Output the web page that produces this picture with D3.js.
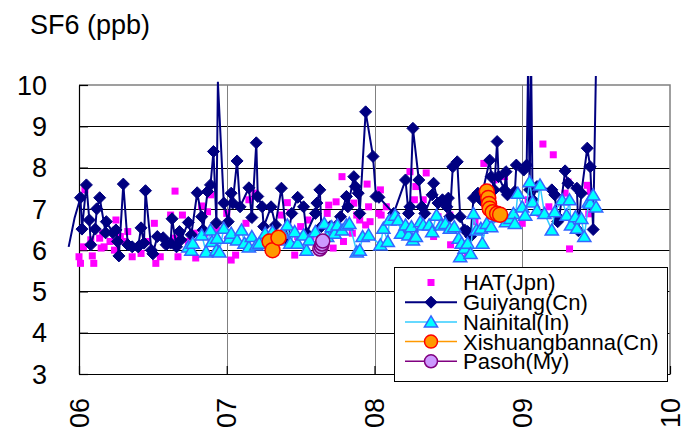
<!DOCTYPE html>
<html>
<head>
<meta charset="utf-8">
<script src="https://cdn.jsdelivr.net/npm/d3@7"></script>
<style>
  html, body { margin: 0; padding: 0; background: #fff; }
  svg { display: block; font-family: "Liberation Sans", Arial, sans-serif; }
</style>
</head>
<body>
<svg id="chart" width="681" height="433"></svg>
<script>
// SF6 mixing ratios (ppb) by decimal year at five sites
const hat = [
  [2006.00,5.84],[2006.01,5.68],[2006.03,6.08],[2006.04,7.46],[2006.08,6.25],[2006.09,5.86],[2006.10,5.68],
  [2006.14,6.29],[2006.15,6.05],[2006.16,6.41],[2006.17,6.08],[2006.21,6.21],[2006.24,6.00],[2006.25,6.73],
  [2006.28,6.33],[2006.31,6.21],[2006.33,6.45],[2006.36,5.84],[2006.40,6.08],[2006.42,5.92],[2006.46,6.21],
  [2006.51,6.65],[2006.52,5.68],[2006.55,5.84],[2006.59,6.13],[2006.62,6.85],[2006.64,6.29],[2006.65,7.43],
  [2006.67,5.84],[2006.70,6.85],[2006.74,6.21],[2006.78,6.41],[2006.79,5.81],[2006.83,7.07],[2006.85,6.41],
  [2006.87,6.93],[2006.89,7.34],[2006.93,6.49],[2007.00,6.89],[2007.005,6.25],[2007.03,5.76],[2007.06,5.88],
  [2007.13,6.65],[2007.15,7.22],[2007.19,7.38],[2007.37,6.85],[2007.41,7.15],[2007.43,6.91],[2007.46,5.88],
  [2007.48,6.33],[2007.50,6.57],[2007.55,6.73],[2007.57,6.33],[2007.61,6.08],[2007.68,6.89],[2007.69,7.09],
  [2007.72,6.05],[2007.74,7.17],[2007.78,7.78],[2007.79,6.21],[2007.85,6.41],[2007.86,7.14],[2007.88,6.85],
  [2007.90,6.73],[2007.94,6.61],[2007.95,7.60],[2007.96,7.05],[2007.97,6.69],[2008.03,6.89],[2008.04,7.46],
  [2008.045,6.85],[2008.08,7.05],[2008.19,6.45],[2008.24,7.90],[2008.27,7.22],[2008.28,7.54],[2008.33,7.22],
  [2008.35,7.87],[2008.40,6.33],[2008.43,6.81],[2008.51,6.85],[2008.515,6.13],[2008.61,6.00],[2008.63,5.92],
  [2008.68,6.69],[2008.74,8.10],[2008.76,7.26],[2008.81,7.70],[2008.88,7.78],[2009.00,6.65],[2009.04,7.22],
  [2009.06,7.46],[2009.12,6.89],[2009.14,8.57],[2009.18,7.05],[2009.21,8.31],[2009.29,7.38],[2009.31,7.65],
  [2009.32,6.03],[2009.44,7.57],[2009.45,6.88],[2009.46,7.42]
];

const guiyang = [
  [2005.93,6.08],[2005.97,6.78],[2006.01,7.27],[2006.02,6.51],[2006.05,7.58],[2006.07,6.73],[2006.08,6.13],
  [2006.11,6.51],[2006.12,7.00],[2006.14,7.27],[2006.18,6.42],[2006.185,6.69],[2006.23,6.42],[2006.25,6.49],
  [2006.26,6.21],[2006.27,5.86],[2006.30,7.60],[2006.33,6.13],[2006.36,6.08],[2006.40,6.08],[2006.42,6.54],
  [2006.44,6.17],[2006.45,7.44],[2006.49,6.00],[2006.50,5.91],[2006.53,6.33],[2006.57,6.30],[2006.59,6.13],
  [2006.62,6.17],[2006.63,6.76],[2006.66,6.08],[2006.68,6.45],[2006.69,6.25],[2006.74,6.67],[2006.76,6.37],
  [2006.80,7.39],[2006.83,6.81],[2006.84,6.49],[2006.87,7.42],[2006.89,7.58],[2006.91,8.39],[2006.93,6.66],
  [2006.94,10.08],[2006.98,7.14],[2007.01,6.69],[2007.03,7.38],[2007.04,7.14],[2007.07,8.16],[2007.09,7.05],
  [2007.15,7.51],[2007.17,6.79],[2007.20,8.60],[2007.21,7.30],[2007.24,7.05],[2007.25,6.57],[2007.30,7.05],
  [2007.33,6.61],[2007.37,7.50],[2007.41,6.21],[2007.44,6.89],[2007.48,7.28],[2007.52,7.05],[2007.54,6.41],
  [2007.60,6.89],[2007.61,7.14],[2007.63,7.46],[2007.64,6.57],[2007.70,6.57],[2007.77,6.81],[2007.81,7.30],
  [2007.82,7.05],[2007.86,7.78],[2007.87,7.54],[2007.89,7.38],[2007.90,6.89],[2007.94,9.35],[2007.99,8.27],
  [2008.01,7.30],[2008.03,7.28],[2008.13,6.89],[2008.21,7.70],[2008.23,6.89],[2008.24,7.05],[2008.26,8.95],
  [2008.30,7.70],[2008.32,7.05],[2008.34,6.89],[2008.39,7.34],[2008.40,7.62],[2008.43,7.14],[2008.46,7.22],
  [2008.49,7.05],[2008.50,7.26],[2008.51,6.81],[2008.53,8.02],[2008.56,8.14],[2008.58,6.81],[2008.61,6.49],
  [2008.63,6.45],[2008.65,6.33],[2008.67,7.26],[2008.70,7.38],[2008.72,7.22],[2008.78,8.18],[2008.79,7.78],
  [2008.81,7.46],[2008.83,8.63],[2008.84,7.78],[2008.88,7.46],[2008.89,7.90],[2008.90,7.34],[2008.95,7.42],
  [2008.96,8.06],[2009.01,7.94],[2009.03,8.06],[2009.04,10.6],[2009.05,7.46],[2009.06,10.6],[2009.07,7.22],
  [2009.10,7.54],[2009.20,7.46],[2009.22,7.34],[2009.24,6.69],[2009.25,6.77],[2009.29,7.92],[2009.31,7.62],
  [2009.37,7.50],[2009.38,6.47],[2009.40,7.38],[2009.44,8.47],[2009.46,8.02],[2009.48,6.50],[2009.50,10.6]
];

const nainital = [
  [2006.74,6.08],[2006.76,6.00],[2006.77,6.17],[2006.83,6.37],[2006.86,5.96],[2006.89,6.49],[2006.90,6.21],
  [2006.93,6.00],[2006.935,6.29],[2006.95,5.96],[2006.98,6.53],[2007.02,6.29],[2007.03,6.41],[2007.07,6.25],
  [2007.10,6.49],[2007.12,6.17],[2007.15,6.08],[2007.17,6.33],[2007.20,6.13],[2007.22,6.17],[2007.26,6.41],
  [2007.31,6.45],[2007.35,6.25],[2007.38,6.41],[2007.41,6.61],[2007.43,6.17],[2007.46,6.45],[2007.48,6.17],
  [2007.52,6.37],[2007.54,6.00],[2007.56,6.25],[2007.60,6.45],[2007.66,6.65],[2007.68,6.33],[2007.71,6.57],
  [2007.73,6.41],[2007.75,6.61],[2007.78,6.49],[2007.81,6.61],[2007.83,6.65],[2007.88,5.96],[2007.90,6.00],
  [2007.92,6.33],[2007.96,6.37],[2008.04,6.13],[2008.06,6.53],[2008.09,6.21],[2008.10,6.73],[2008.14,6.85],
  [2008.16,6.73],[2008.18,6.41],[2008.21,6.61],[2008.23,6.37],[2008.25,6.57],[2008.26,6.25],[2008.28,6.33],
  [2008.31,6.69],[2008.33,6.61],[2008.37,6.61],[2008.39,6.45],[2008.42,6.85],[2008.45,6.61],[2008.48,6.65],
  [2008.51,6.53],[2008.54,6.57],[2008.57,6.29],[2008.58,5.84],[2008.59,6.17],[2008.61,6.05],[2008.63,6.17],
  [2008.65,5.92],[2008.67,6.89],[2008.69,6.49],[2008.72,6.53],[2008.73,6.17],[2008.76,6.65],[2008.79,6.57],
  [2008.84,6.81],[2008.89,6.69],[2008.92,6.77],[2008.94,6.89],[2008.95,6.65],[2008.97,7.38],[2009.00,7.05],
  [2009.02,6.85],[2009.05,7.66],[2009.07,7.17],[2009.10,6.97],[2009.12,7.58],[2009.15,6.89],[2009.20,6.49],
  [2009.22,6.93],[2009.27,7.22],[2009.30,6.85],[2009.32,7.22],[2009.33,6.61],[2009.36,6.81],[2009.37,6.53],
  [2009.40,6.77],[2009.42,6.33],[2009.45,7.17],[2009.46,7.14],[2009.48,7.34],[2009.50,7.05]
];

const xishuangbanna = [
  [2007.29,6.21],[2007.31,6.00],[2007.35,6.30],
  [2008.76,7.42],[2008.77,7.26],[2008.775,7.12],[2008.78,7.00],[2008.80,6.92],[2008.83,6.88],[2008.85,6.86]
];

const pasoh = [
  [2007.63,6.03],[2007.64,6.08],[2007.645,6.15],[2007.65,6.22]
];

const xTicks = [2006, 2007, 2008, 2009, 2010];
const yTicks = [3, 4, 5, 6, 7, 8, 9, 10];
const seriesNames = ["HAT(Jpn)", "Guiyang(Cn)", "Nainital(In)", "Xishuangbanna(Cn)", "Pasoh(My)"];

(function draw() {
  const svg = d3.select("#chart");
  const pL = 79, pR = 670, pT = 85, pB = 374;

  const x = d3.scaleLinear().domain([2006, 2010]).range([pL, pR]);
  const y = d3.scaleLinear().domain([3, 10]).range([pB, pT]);

  // clip region for the series lines (lines may run a little past the frame)
  svg.append("defs").append("clipPath").attr("id", "lineClip")
    .append("rect").attr("x", 60).attr("y", 76).attr("width", pR - 60).attr("height", pB - 76);

  // gridlines
  const grid = svg.append("g");
  grid.selectAll("line.h").data(yTicks.filter(t => t > 3 && t < 10)).join("line").attr("class", "h")
    .attr("x1", pL).attr("x2", pR)
    .attr("y1", d => Math.round(y(d)) + 0.5).attr("y2", d => Math.round(y(d)) + 0.5)
    .attr("stroke", "#000").attr("stroke-width", 1);
  grid.selectAll("line.v").data(xTicks.filter(t => t > 2006 && t < 2010)).join("line").attr("class", "v")
    .attr("x1", d => Math.round(x(d)) + 0.5).attr("x2", d => Math.round(x(d)) + 0.5)
    .attr("y1", pT).attr("y2", pB)
    .attr("stroke", "#808080").attr("stroke-width", 1);

  // plot frame (top and right in grey)
  svg.append("path")
    .attr("d", `M${pL},${pT}H${pR}V${pB}`)
    .attr("fill", "none").attr("stroke", "#808080").attr("stroke-width", 1.5);

  // axes
  svg.append("g").attr("transform", `translate(${pL},0)`)
    .call(d3.axisRight(y).tickValues(yTicks).tickSize(9).tickSizeOuter(0).tickFormat(""))
    .call(g => g.selectAll("path,line").attr("stroke", "#000").attr("stroke-width", 1.2));
  svg.append("g").attr("transform", `translate(0,${pB})`)
    .call(d3.axisTop(x).tickValues(xTicks).tickSize(8).tickSizeOuter(0).tickFormat(""))
    .call(g => g.selectAll("path,line").attr("stroke", "#000").attr("stroke-width", 1.2));

  // y tick labels
  svg.append("g").selectAll("text").data(yTicks).join("text")
    .attr("x", 47).attr("y", d => y(d)).attr("dy", "0.36em")
    .attr("text-anchor", "end").attr("font-size", 27).attr("fill", "#000")
    .text(d => d);

  // x tick labels, rotated
  svg.append("g").selectAll("text").data(xTicks).join("text")
    .attr("transform", d => `translate(${x(d)},398) rotate(-90)`)
    .attr("dy", "0.36em").attr("text-anchor", "end")
    .attr("font-size", 27).attr("fill", "#000")
    .text(d => String(d % 100).padStart(2, "0"));

  // unit label
  svg.append("text").attr("x", 30).attr("y", 34)
    .attr("font-size", 27).attr("fill", "#000").text("SF6 (ppb)");

  // marker shapes
  const diamondPath = s => `M0,${-s}L${s},0L0,${s}L${-s},0Z`;
  const trianglePath = s => `M0,${-s}L${s * 1.1},${s * 0.85}L${-s * 1.1},${s * 0.85}Z`;

  const inView = d => d[0] >= 2006 && d[1] <= 10 && d[1] >= 3;

  // split a series into runs wherever there is a long gap in time
  function runs(data, maxGap) {
    const out = [];
    let cur = [];
    data.forEach((d, i) => {
      if (i > 0 && d[0] - data[i - 1][0] > maxGap) { out.push(cur); cur = []; }
      cur.push(d);
    });
    if (cur.length) out.push(cur);
    return out;
  }

  const line = d3.line().x(d => x(d[0])).y(d => y(d[1]));

  // HAT: squares only
  svg.append("g").selectAll("rect").data(hat.filter(inView)).join("rect")
    .attr("x", d => x(d[0]) - 3.5).attr("y", d => y(d[1]) - 3.5)
    .attr("width", 7).attr("height", 7).attr("fill", "#FF00FF");

  // Guiyang: navy line with diamonds
  const gG = svg.append("g");
  gG.append("path").datum(guiyang).attr("d", line)
    .attr("fill", "none").attr("stroke", "#000080").attr("stroke-width", 2)
    .attr("clip-path", "url(#lineClip)");
  gG.selectAll("path.m").data(guiyang.filter(inView)).join("path").attr("class", "m")
    .attr("transform", d => `translate(${x(d[0])},${y(d[1])})`)
    .attr("d", diamondPath(6)).attr("fill", "#000080").attr("stroke", "#000080").attr("stroke-width", 1);

  // Nainital: cyan line with triangles
  const gN = svg.append("g");
  gN.append("path").datum(nainital).attr("d", line)
    .attr("fill", "none").attr("stroke", "#33CCFF").attr("stroke-width", 1.5)
    .attr("clip-path", "url(#lineClip)");
  gN.selectAll("path.m").data(nainital.filter(inView)).join("path").attr("class", "m")
    .attr("transform", d => `translate(${x(d[0])},${y(d[1])})`)
    .attr("d", trianglePath(6)).attr("fill", "#00FFFF").attr("stroke", "#3366FF").attr("stroke-width", 1.5);

  // Xishuangbanna: orange circles
  const gX = svg.append("g");
  runs(xishuangbanna, 0.3).forEach(r => {
    gX.append("path").datum(r).attr("d", line)
      .attr("fill", "none").attr("stroke", "#FF9900").attr("stroke-width", 1.5);
  });
  gX.selectAll("circle").data(xishuangbanna).join("circle")
    .attr("cx", d => x(d[0])).attr("cy", d => y(d[1])).attr("r", 7.5)
    .attr("fill", "#FF9900").attr("stroke", "#FF0000").attr("stroke-width", 1.5);

  // Pasoh: lavender circles
  const gP = svg.append("g");
  gP.append("path").datum(pasoh).attr("d", line)
    .attr("fill", "none").attr("stroke", "#800080").attr("stroke-width", 1.5);
  gP.selectAll("circle").data(pasoh).join("circle")
    .attr("cx", d => x(d[0])).attr("cy", d => y(d[1])).attr("r", 7)
    .attr("fill", "#CC99FF").attr("stroke", "#800080").attr("stroke-width", 1.5);

  // legend
  const lg = svg.append("g");
  lg.append("rect").attr("x", 394.5).attr("y", 267.5).attr("width", 273).attr("height", 114)
    .attr("fill", "#fff").attr("stroke", "#000").attr("stroke-width", 1);
  const rowY = i => 282.5 + i * 19.7;
  const mx = 431;
  const lineColors = [null, "#000080", "#33CCFF", "#FF9900", "#800080"];
  seriesNames.forEach((name, i) => {
    const ry = rowY(i);
    if (i === 0) {
      lg.append("rect").attr("x", mx - 3.5).attr("y", ry - 3.5).attr("width", 7).attr("height", 7).attr("fill", "#FF00FF");
    } else {
      lg.append("line").attr("x1", 405).attr("x2", 457).attr("y1", ry).attr("y2", ry)
        .attr("stroke", lineColors[i]).attr("stroke-width", i === 1 ? 2 : 1.5);
      if (i === 1) {
        lg.append("path").attr("transform", `translate(${mx},${ry})`).attr("d", diamondPath(6))
          .attr("fill", "#000080").attr("stroke", "#000080");
      } else if (i === 2) {
        lg.append("path").attr("transform", `translate(${mx},${ry})`).attr("d", trianglePath(6))
          .attr("fill", "#00FFFF").attr("stroke", "#3366FF").attr("stroke-width", 1.5);
      } else if (i === 3) {
        lg.append("circle").attr("cx", mx).attr("cy", ry).attr("r", 6.5)
          .attr("fill", "#FF9900").attr("stroke", "#FF0000").attr("stroke-width", 1.5);
      } else {
        lg.append("circle").attr("cx", mx).attr("cy", ry).attr("r", 6.5)
          .attr("fill", "#CC99FF").attr("stroke", "#800080").attr("stroke-width", 1.5);
      }
    }
    lg.append("text").attr("x", 463).attr("y", ry).attr("dy", "0.36em")
      .attr("font-size", 22).attr("fill", "#000").text(name);
  });
})();
</script>
</body>
</html>
